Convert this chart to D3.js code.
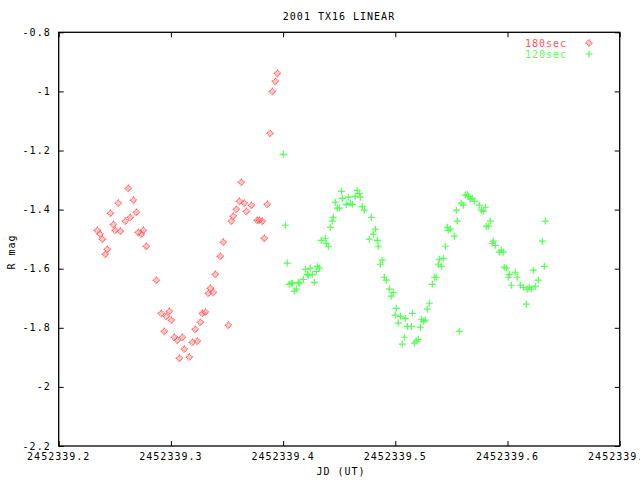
<!DOCTYPE html>
<html>
<head>
<meta charset="utf-8">
<script src="https://cdn.jsdelivr.net/npm/d3@7"></script>
<style>
  html, body { margin: 0; padding: 0; background: #fff; }
  svg { display: block; overflow: hidden; }
  text { font-family: "DejaVu Sans Mono", "Liberation Mono", monospace; font-size: 10px; letter-spacing: 1px; fill: #000; }
</style>
</head>
<body>
<svg id="chart" width="640" height="480"></svg>
<script>
// ---- data ----
const title = "2001 TX16 LINEAR";
const xLabel = "JD (UT)";
const yLabel = "R mag";
const seriesNames = ["180sec", "120sec"];
const seriesColors = ["#ff5555", "#55ff55"];
const xTicks = [2452339.2, 2452339.3, 2452339.4, 2452339.5, 2452339.6, 2452339.7];
const yTicks = [-0.8, -1.0, -1.2, -1.4, -1.6, -1.8, -2.0, -2.2];

const jd180 = [
  2452339.2344, 2452339.2368, 2452339.2389, 2452339.2433, 2452339.2415, 2452339.2460,
  2452339.2487, 2452339.2504, 2452339.2531, 2452339.2549, 2452339.2594, 2452339.2620,
  2452339.2638, 2452339.2665, 2452339.2692, 2452339.2709, 2452339.2736, 2452339.2754,
  2452339.2781, 2452339.2870, 2452339.2914, 2452339.2941, 2452339.2959, 2452339.2986,
  2452339.3004, 2452339.3030, 2452339.3057, 2452339.3075, 2452339.3102, 2452339.3119,
  2452339.3164, 2452339.3191, 2452339.3217, 2452339.3235, 2452339.3262, 2452339.3280,
  2452339.3307, 2452339.3333, 2452339.3351, 2452339.3378, 2452339.3396, 2452339.3440,
  2452339.3467, 2452339.3512, 2452339.3538, 2452339.3556, 2452339.3583, 2452339.3610,
  2452339.3627, 2452339.3654, 2452339.3672, 2452339.3717, 2452339.3770, 2452339.3788,
  2452339.3815, 2452339.3832, 2452339.3859, 2452339.3883, 2452339.3904, 2452339.3930,
  2452339.3948
];
const mag180 = [
  -1.470, -1.483, -1.500, -1.534, -1.551, -1.412,
  -1.450, -1.470, -1.378, -1.473, -1.439, -1.328,
  -1.426, -1.368, -1.409, -1.477, -1.483, -1.470,
  -1.524, -1.639, -1.751, -1.812, -1.761, -1.744,
  -1.774, -1.832, -1.842, -1.903, -1.832, -1.872,
  -1.899, -1.849, -1.805, -1.845, -1.781, -1.751,
  -1.747, -1.683, -1.666, -1.680, -1.619, -1.558,
  -1.510, -1.791, -1.439, -1.422, -1.399, -1.372,
  -1.307, -1.378, -1.406, -1.385, -1.436, -1.436,
  -1.439, -1.497, -1.382, -1.142, -1.000, -0.966,
  -0.939
];

const jd120 = [
  2452339.4002, 2452339.4020, 2452339.4037, 2452339.4055, 2452339.4073, 2452339.4082,
  2452339.4100, 2452339.4118, 2452339.4135, 2452339.4144, 2452339.4180, 2452339.4198,
  2452339.4216, 2452339.4225, 2452339.4242, 2452339.4260, 2452339.4278, 2452339.4296,
  2452339.4305, 2452339.4323, 2452339.4340, 2452339.4376, 2452339.4385, 2452339.4403,
  2452339.4421, 2452339.4438, 2452339.4447, 2452339.4465, 2452339.4483, 2452339.4501,
  2452339.4519, 2452339.4528, 2452339.4563, 2452339.4581, 2452339.4599, 2452339.4617,
  2452339.4643, 2452339.4661, 2452339.4679, 2452339.4688, 2452339.4706, 2452339.4724,
  2452339.4768, 2452339.4786, 2452339.4804, 2452339.4822, 2452339.4840, 2452339.4848,
  2452339.4866, 2452339.4884, 2452339.4902, 2452339.4920, 2452339.4947, 2452339.4964,
  2452339.4982, 2452339.5000, 2452339.5009, 2452339.5027, 2452339.5045, 2452339.5062,
  2452339.5080, 2452339.5089, 2452339.5107, 2452339.5143, 2452339.5152, 2452339.5169,
  2452339.5187, 2452339.5205, 2452339.5223, 2452339.5232, 2452339.5250, 2452339.5267,
  2452339.5285, 2452339.5303, 2452339.5330, 2452339.5348, 2452339.5365, 2452339.5383,
  2452339.5392, 2452339.5410, 2452339.5428, 2452339.5446, 2452339.5464, 2452339.5472,
  2452339.5490, 2452339.5526, 2452339.5544, 2452339.5553, 2452339.5570, 2452339.5588,
  2452339.5606, 2452339.5624, 2452339.5642, 2452339.5651, 2452339.5668, 2452339.5686,
  2452339.5704, 2452339.5749, 2452339.5767, 2452339.5784, 2452339.5802, 2452339.5811,
  2452339.5829, 2452339.5847, 2452339.5864, 2452339.5873, 2452339.5891, 2452339.5927,
  2452339.5945, 2452339.5962, 2452339.5971, 2452339.5989, 2452339.6007, 2452339.6016,
  2452339.6034, 2452339.6069, 2452339.6087, 2452339.6114, 2452339.6141, 2452339.6168,
  2452339.6176, 2452339.6194, 2452339.6212, 2452339.6230, 2452339.6248, 2452339.6274,
  2452339.6310, 2452339.6328, 2452339.6337
];
const mag120 = [
  -1.213, -1.453, -1.581, -1.653, -1.649, -1.649,
  -1.676, -1.669, -1.646, -1.649, -1.636, -1.602,
  -1.619, -1.622, -1.598, -1.619, -1.646, -1.609,
  -1.592, -1.598, -1.504, -1.497, -1.514, -1.524,
  -1.460, -1.439, -1.426, -1.375, -1.395, -1.395,
  -1.338, -1.362, -1.382, -1.358, -1.378, -1.382,
  -1.355, -1.335, -1.345, -1.358, -1.389, -1.402,
  -1.500, -1.426, -1.483, -1.466, -1.504, -1.524,
  -1.585, -1.571, -1.629, -1.639, -1.669, -1.693,
  -1.680, -1.757, -1.734, -1.784, -1.761, -1.855,
  -1.832, -1.768, -1.795, -1.795, -1.751, -1.852,
  -1.845, -1.839, -1.798, -1.771, -1.778, -1.774,
  -1.737, -1.717, -1.653, -1.629, -1.629, -1.585,
  -1.568, -1.592, -1.565, -1.524, -1.460, -1.470,
  -1.466, -1.490, -1.402, -1.439, -1.812, -1.378,
  -1.385, -1.351, -1.348, -1.355, -1.365, -1.362,
  -1.372, -1.385, -1.402, -1.406, -1.392, -1.456,
  -1.456, -1.439, -1.514, -1.507, -1.521, -1.544,
  -1.537, -1.544, -1.595, -1.598, -1.629, -1.619,
  -1.656, -1.612, -1.629, -1.656, -1.663, -1.720,
  -1.669, -1.663, -1.669, -1.605, -1.659, -1.639,
  -1.507, -1.592, -1.439
];

// ---- layout ----
const svg = d3.select("#chart");
const L = 58.7, R = 619.7, T = 32.3, B = 446;
const x = d3.scaleLinear().domain([xTicks[0], xTicks[xTicks.length - 1]]).range([L, R]);
const y = d3.scaleLinear().domain([yTicks[0], yTicks[yTicks.length - 1]]).range([T, B]);

const fmtY = d => String(+d.toFixed(1));
const fmtX = d => d.toFixed(1);
const tickLen = 5;

// axes (gnuplot style: inward ticks, mirrored)
const gL = svg.append("g").attr("transform", `translate(${L},0)`)
  .call(d3.axisRight(y).tickValues(yTicks).tickFormat("").tickSize(tickLen).tickSizeOuter(0));
const gR = svg.append("g").attr("transform", `translate(${R},0)`)
  .call(d3.axisLeft(y).tickValues(yTicks).tickFormat("").tickSize(tickLen).tickSizeOuter(0));
const gB = svg.append("g").attr("transform", `translate(0,${B})`)
  .call(d3.axisTop(x).tickValues(xTicks).tickFormat("").tickSize(tickLen).tickSizeOuter(0));
const gT = svg.append("g").attr("transform", `translate(0,${T})`)
  .call(d3.axisBottom(x).tickValues(xTicks).tickFormat("").tickSize(tickLen).tickSizeOuter(0));
[gL, gR, gB, gT].forEach(g => {
  g.select(".domain").remove();
  g.selectAll("line").attr("stroke", "#000").attr("stroke-width", 1);
});

// frame
svg.append("rect").attr("x", L).attr("y", T).attr("width", R - L).attr("height", B - T)
  .attr("fill", "none").attr("stroke", "#000").attr("stroke-width", 1.3);

// tick labels
svg.append("g").selectAll("text").data(yTicks).join("text")
  .attr("x", L - 8).attr("y", d => y(d)).attr("dy", "0.35em")
  .attr("text-anchor", "end").text(fmtY);
svg.append("g").selectAll("text").data(xTicks).join("text")
  .attr("x", d => x(d)).attr("y", B + 14)
  .attr("text-anchor", "middle").text(fmtX);

// titles
svg.append("text").attr("x", 339).attr("y", 20).attr("text-anchor", "middle").text(title);
svg.append("text").attr("x", 341).attr("y", 475).attr("text-anchor", "middle").text(xLabel);
svg.append("text").attr("transform", "translate(15,252) rotate(-90)")
  .attr("text-anchor", "middle").text(yLabel);

// markers
function diamond(g, cx, cy, color) {
  const r = 3.2;
  g.append("path")
    .attr("d", `M${cx},${cy - r}L${cx + r},${cy}L${cx},${cy + r}L${cx - r},${cy}Z`)
    .attr("fill", color).attr("fill-opacity", 0.3)
    .attr("stroke", color).attr("stroke-width", 1.2)
    .attr("stroke-dasharray", "1,0.8");
}
function plus(g, cx, cy, color) {
  const r = 3.5;
  g.append("path")
    .attr("d", `M${cx - r},${cy}H${cx + r}M${cx},${cy - r}V${cy + r}`)
    .attr("fill", "none").attr("stroke", color).attr("stroke-width", 1.2);
}

const p180 = svg.append("g");
jd180.forEach((d, i) => diamond(p180, x(d), y(mag180[i]), seriesColors[0]));
const p120 = svg.append("g");
jd120.forEach((d, i) => plus(p120, x(d), y(mag120[i]), seriesColors[1]));

// legend
const leg = svg.append("g");
seriesNames.forEach((n, i) => {
  const ly = 43 + i * 11;
  leg.append("text").attr("x", 567).attr("y", ly).attr("dy", "0.35em")
    .attr("text-anchor", "end").style("fill", seriesColors[i]).text(n);
  if (i === 0) diamond(leg, 589, ly, seriesColors[0]);
  else plus(leg, 589, ly, seriesColors[1]);
});
</script>
</body>
</html>
